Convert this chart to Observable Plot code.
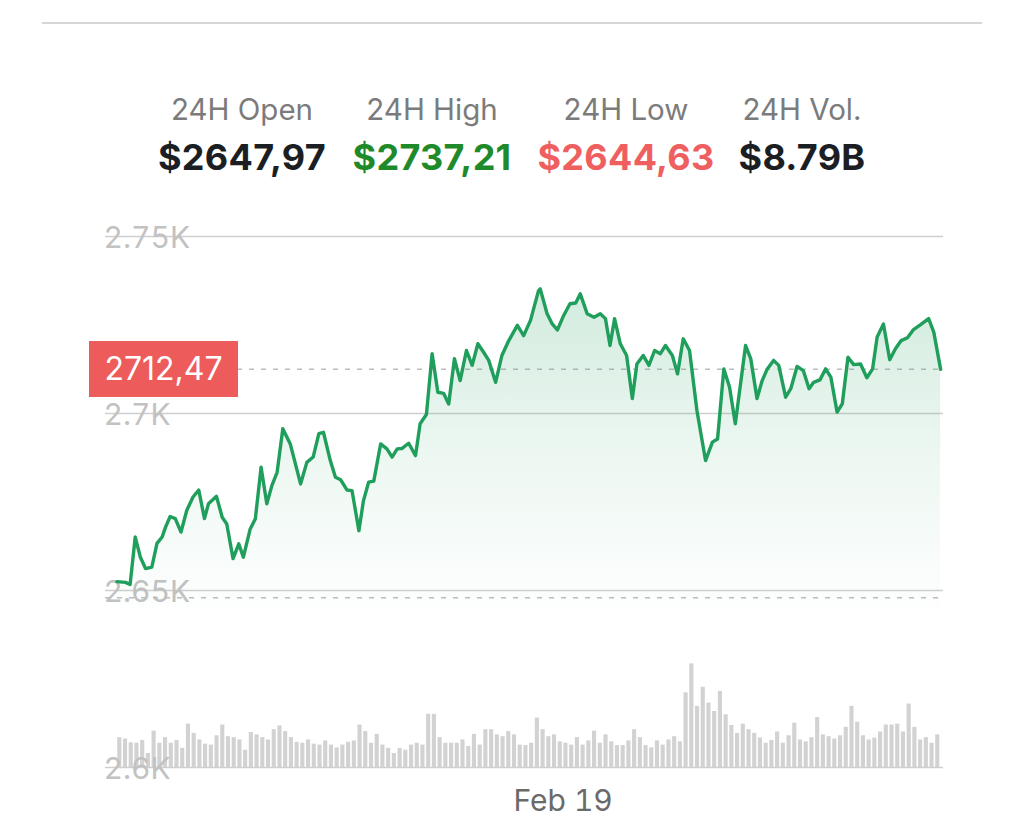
<!DOCTYPE html>
<html>
<head>
<meta charset="utf-8">
<script src="https://cdn.jsdelivr.net/npm/d3@7"></script>
<script src="https://cdn.jsdelivr.net/npm/@observablehq/plot@0.6"></script>
<style>
  html, body { margin: 0; padding: 0; background: #fff; }
  #root { position: relative; width: 1024px; height: 838px; overflow: hidden; font-family: Inter, "Noto Sans", sans-serif; }
  .layer { position: absolute; left: 0; top: 0; }
  .stat { position: absolute; transform: translateX(-50%); white-space: nowrap; line-height: 1; }
  .lbl { font-size: 29.5px; color: #7b7b7b; top: 95px; }
  .val { font-size: 36px; font-weight: 700; top: 139px; letter-spacing: 0.3px; }
</style>
</head>
<body>
<div id="root"></div>
<script>
// ---- data ----
const statLabels = ["24H Open", "24H High", "24H Low", "24H Vol."];
const statValues = ["$2647,97", "$2737,21", "$2644,63", "$8.79B"];
const openPrice = 2647.97;
const lastPrice = 2712.47;
const yTicks = [2600, 2650, 2700, 2750];
const xTickLabel = "Feb 19";
const startUTC = Date.UTC(2025, 1, 18, 11, 0);
const xTickUTC = Date.UTC(2025, 1, 19, 0, 0);

// price path: minutes from start, price (USD)
const minutes = [0,15,23,32,41,50,61,70,79,85,93,102,112,122,133,143,153,160,174,184,192,203,213,221,233,242,252,262,271,280,290,303,321,332,343,353,361,
373,382,391,402,411,423,431,440,449,461,472,481,490,498,510,522,530,541,551,561,571,580,590,600,611,621,631,641,650,662,673,685,700,711,723,737,
740,752,761,770,781,792,802,810,822,834,845,854,862,870,880,891,901,909,920,930,940,950,959,971,980,990,1001,1014,1029,1041,1050,1061,1071,1081,
1099,1108,1119,1128,1137,1148,1157,1169,1178,1189,1200,1210,1218,1229,1239,1248,1259,1268,1278,1288,1300,1311,1321,1329,1340,1351,1361,1371,1382,1392,1405,1419,1428,1440];
const prices = [2652.5,2652.3,2651.7,2665.1,2659.4,2656.2,2656.6,2663.3,2665.1,2667.9,2670.9,2670.3,2666.5,2672.6,2676.4,2678.4,2670.3,2674.5,2676.6,2670.7,2668.8,2659.0,2663.2,2659.4,2667.4,2670.3,2684.8,2674.5,2679.7,2683.4,2695.7,2691.4,2680.1,2686.2,2687.7,2694.3,2694.7,
2686.7,2682.0,2681.3,2678.4,2678.2,2666.9,2675.4,2680.6,2680.9,2691.4,2690.0,2687.7,2690.0,2690.1,2691.6,2688.1,2697.1,2699.7,2716.9,2706.0,2705.7,2702.7,2715.5,2709.3,2717.8,2713.6,2719.7,2717.3,2715.0,2708.8,2716.4,2720.6,2724.9,2722.0,2726.3,2734.7,
2735.2,2728.2,2725.3,2723.6,2727.7,2731.0,2731.2,2733.8,2728.2,2727.2,2728.2,2726.8,2719.2,2726.8,2719.7,2716.4,2704.2,2714.0,2716.4,2713.6,2717.8,2716.9,2719.2,2716.4,2711.2,2721.1,2717.8,2700.8,2686.7,2691.9,2692.8,2712.6,2707.4,2697.1,
2719.2,2715.5,2704.2,2709.3,2712.6,2715.0,2713.6,2704.6,2707.0,2713.3,2712.1,2707.0,2708.8,2709.5,2712.6,2710.3,2700.4,2702.7,2715.9,2713.8,2714.0,2710.1,2712.6,2721.6,2725.3,2715.2,2718.3,2720.6,2721.4,2723.6,2725.1,2726.8,2723.0,2712.47];

// volume per 10-minute bar (USD millions)
const volumes = [64,61,53,52,58,30,78,52,64,52,58,41,93,73,59,50,48,68,91,66,64,59,37,75,70,64,59,81,89,77,64,54,52,59,50,48,57,48,42,48,54,57,91,77,52,71,48,41,30,41,37,48,52,48,114,114,64,52,52,52,59,45,71,48,81,81,70,66,
77,70,48,47,52,106,81,66,70,55,52,48,64,48,57,78,52,70,55,47,47,57,81,64,47,42,57,48,59,66,55,
160,222,131,172,138,120,163,113,90,73,93,81,73,63,52,58,76,52,68,95,59,55,64,107,70,66,61,68,86,131,97,68,59,63,76,91,91,93,76,136,86,59,64,52,70];

// ---- build ----
const MIN = 60000;
const priceData = minutes.map((m, i) => ({date: new Date(startUTC + m * MIN), price: prices[i]}));
const volData = volumes.map((v, i) => ({x1: new Date(startUTC + i * 10 * MIN), x2: new Date(startUTC + (i + 1) * 10 * MIN), v}));
const xDomain = [new Date(startUTC - 20 * MIN), new Date(startUTC + 1445 * MIN)];

const W = 1024, H = 838;
const common = {width: W, height: H, marginLeft: 105, marginRight: 81, marginBottom: 71};
const root = document.getElementById("root");

// top rule
const rule = document.createElement("div");
Object.assign(rule.style, {position: "absolute", left: "42px", top: "22px", width: "940px", height: "2px", background: "#d6d6d6"});
root.appendChild(rule);

// header stats
const centers = [242, 432, 626, 802];
const valColors = ["#1b1e23", "#1f8a2a", "#ef5f5f", "#1b1e23"];
statLabels.forEach((t, i) => {
  const d = document.createElement("div");
  d.className = "stat lbl"; d.textContent = t; d.style.left = centers[i] + "px";
  root.appendChild(d);
  const v = document.createElement("div");
  v.className = "stat val"; v.textContent = statValues[i]; v.style.left = centers[i] + "px"; v.style.color = valColors[i];
  root.appendChild(v);
});

// volume layer
const volPlot = Plot.plot({
  ...common,
  marginTop: 655,
  style: {background: "transparent"},
  x: {type: "utc", domain: xDomain, axis: null},
  y: {domain: [0, 240], axis: null},
  marks: [
    Plot.rectY(volData, {x1: "x1", x2: "x2", y: "v", fill: "#d2d2d2", insetLeft: 0.8, insetRight: 0.8})
  ]
});
volPlot.classList.add("layer");
root.appendChild(volPlot);

// gradient def
function gradientDefs() {
  const ns = "http://www.w3.org/2000/svg";
  const defs = document.createElementNS(ns, "defs");
  const g = document.createElementNS(ns, "linearGradient");
  g.setAttribute("id", "areaGrad");
  g.setAttribute("x1", "0"); g.setAttribute("y1", "0"); g.setAttribute("x2", "0"); g.setAttribute("y2", "1");
  [[0, 0.2], [0.35, 0.08], [0.7, 0]].forEach(([o, a]) => {
    const s = document.createElementNS(ns, "stop");
    s.setAttribute("offset", o); s.setAttribute("stop-color", "#1f9d5b"); s.setAttribute("stop-opacity", a);
    g.appendChild(s);
  });
  defs.appendChild(g);
  return defs;
}

// price layer
const pricePlot = Plot.plot({
  ...common,
  marginTop: 236,
  style: {background: "transparent", fontFamily: "Inter, 'Noto Sans', sans-serif"},
  x: {type: "utc", domain: xDomain, axis: null},
  y: {domain: [2600, 2750], axis: null},
  marks: [
    gradientDefs,
    Plot.gridY(yTicks, {stroke: "#cfcfcf", strokeOpacity: 1, strokeWidth: 1.5}),
    Plot.axisY(yTicks, {anchor: "left", label: null, tickSize: 0, tickPadding: 2, textAnchor: "start", tickFormat: d => (d / 1000) + "K", fill: "#c2c2c2", fontSize: 30, dy: 2}),
    Plot.ruleY([openPrice], {stroke: "#bdbdbd", strokeWidth: 1.5, strokeDasharray: "5,7"}),
    Plot.ruleY([lastPrice], {stroke: "#bdbdbd", strokeWidth: 1.5, strokeDasharray: "5,7"}),
    Plot.areaY(priceData, {x: "date", y1: 2600, y2: "price", fill: "url(#areaGrad)"}),
    Plot.lineY(priceData, {x: "date", y: "price", stroke: "#1f9e5c", strokeWidth: 3.4, strokeLinejoin: "round"}),
    Plot.axisX([new Date(xTickUTC)], {label: null, tickSize: 0, tickPadding: 22, tickFormat: () => xTickLabel, fill: "#6a6a6a", fontSize: 30})
  ]
});
pricePlot.classList.add("layer");
root.appendChild(pricePlot);

// last price tag, positioned by the y scale
const yPos = pricePlot.scale("y").apply(lastPrice);
const tag = document.createElement("div");
Object.assign(tag.style, {
  position: "absolute", left: "89px", top: (yPos - 28) + "px", width: "149px", height: "56px",
  background: "#ee5b5b", color: "#fff", fontSize: "32px", lineHeight: "56px", textAlign: "center"
});
tag.textContent = lastPrice.toFixed(2).replace(".", ",");
root.appendChild(tag);
</script>
</body>
</html>
